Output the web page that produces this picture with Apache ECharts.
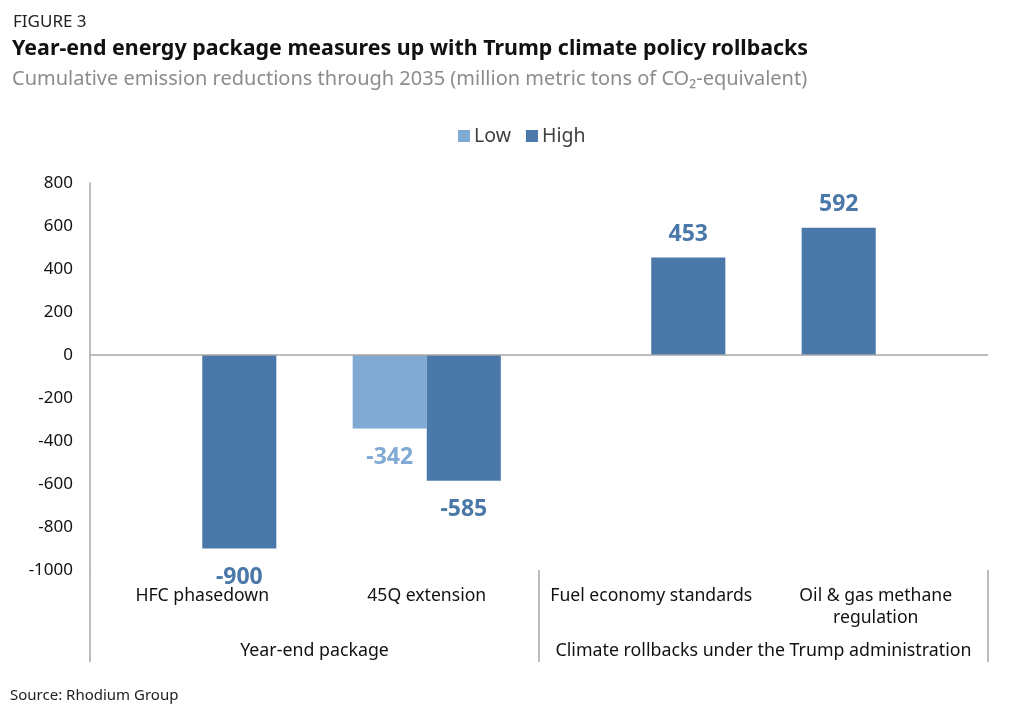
<!DOCTYPE html>
<html>
<head>
<meta charset="utf-8">
<script src="https://cdn.jsdelivr.net/npm/echarts@6/dist/echarts.min.js"></script>
<style>
html,body{margin:0;padding:0;background:#fff;}
#chart{width:1012px;height:714px;}
</style>
</head>
<body>
<div id="chart"></div>
<script>
const categories = ["HFC phasedown", "45Q extension", "Fuel economy standards", "Oil & gas methane\nregulation"];
const groups = ["Year-end package", "Climate rollbacks under the Trump administration"];
const lowValues = [null, -342, null, null];
const highValues = [-900, -585, 453, 592];
// In the source, the methane "High" bar sits in the first (left) slot of its category
const highInLeftSlot = [false, false, false, true];
const yTicks = { min: -1000, max: 800, interval: 200 };

const FONT = "'Noto Sans', 'Open Sans', sans-serif";
const LOW_COLOR = "#80a9d4";
const HIGH_COLOR = "#4a78a8";

function item(v, color) {
  if (v === null) return null;
  return {
    value: v,
    itemStyle: { color: color },
    label: { position: v < 0 ? "bottom" : "top", distance: v < 0 ? 17 : 12, color: color }
  };
}

const lowData = categories.map((c, i) =>
  highInLeftSlot[i] ? item(highValues[i], HIGH_COLOR) : item(lowValues[i], LOW_COLOR));
const highData = categories.map((c, i) =>
  highInLeftSlot[i] ? null : item(highValues[i], HIGH_COLOR));

const labelCommon = {
  show: true, fontFamily: FONT, fontWeight: "bold", fontSize: 23
};

const chart = echarts.init(document.getElementById("chart"));
chart.setOption({
  animation: false,
  backgroundColor: "#fff",
  title: [
    { text: "FIGURE 3", left: 8, top: 9, textStyle: { fontFamily: FONT, fontSize: 17, fontWeight: "normal", color: "#222" } },
    { text: "Year-end energy package measures up with Trump climate policy rollbacks", left: 7, top: 33,
      textStyle: { fontFamily: FONT, fontSize: 21.4, fontWeight: "bold", color: "#111" } },
    { text: "Cumulative emission reductions through 2035 (million metric tons of CO₂-equivalent)", left: 7, top: 64,
      textStyle: { fontFamily: FONT, fontSize: 20, fontWeight: "normal", color: "#8c8c8c" } },
    { text: "Source: Rhodium Group", left: 5, top: 683,
      textStyle: { fontFamily: FONT, fontSize: 15, fontWeight: "normal", color: "#222" } }
  ],
  legend: {
    top: 121, left: 453, itemWidth: 12, itemHeight: 12, itemGap: 15,
    icon: "rect",
    data: [{ name: "Low", itemStyle: { color: LOW_COLOR } }, { name: "High", itemStyle: { color: HIGH_COLOR } }],
    textStyle: { fontFamily: FONT, fontSize: 19.5, color: "#404040", padding: [0, 0, 0, -1] }
  },
  grid: { left: 90, right: 24, top: 183, bottom: 144, containLabel: false },
  xAxis: [
    {
      type: "category", data: categories, position: "bottom",
      axisLine: { show: false, onZero: false },
      axisTick: { show: false },
      axisLabel: { interval: 0, margin: 15, fontFamily: FONT, fontSize: 17.6, color: "#111", lineHeight: 22 }
    },
    {
      type: "category", data: groups, position: "bottom", offset: 92,
      axisLine: { show: false, onZero: false },
      axisTick: { show: true, inside: true, length: 92, lineStyle: { color: "#a6a6a6", width: 1.5 } },
      axisLabel: { inside: true, interval: 0, margin: 2, verticalAlign: "bottom", fontFamily: FONT, fontSize: 17.8, color: "#111" }
    }
  ],
  yAxis: {
    type: "value", min: yTicks.min, max: yTicks.max, interval: yTicks.interval,
    axisLine: { show: true, lineStyle: { color: "#a6a6a6", width: 1.5 } },
    axisTick: { show: false },
    splitLine: { show: false },
    axisLabel: { margin: 17, fontFamily: FONT, fontSize: 17, color: "#111", formatter: v => String(v) }
  },
  series: [
    {
      name: "Low", type: "bar", data: lowData, itemStyle: { color: LOW_COLOR },
      barWidth: "33%", barGap: "0%",
      label: labelCommon,
      markLine: {
        silent: true, symbol: "none", label: { show: false },
        lineStyle: { color: "#a6a6a6", width: 1.5, type: "solid" },
        data: [{ yAxis: 0 }]
      }
    },
    {
      name: "High", type: "bar", data: highData, itemStyle: { color: HIGH_COLOR },
      barWidth: "33%", barGap: "0%",
      label: labelCommon
    }
  ]
});
</script>
</body>
</html>
